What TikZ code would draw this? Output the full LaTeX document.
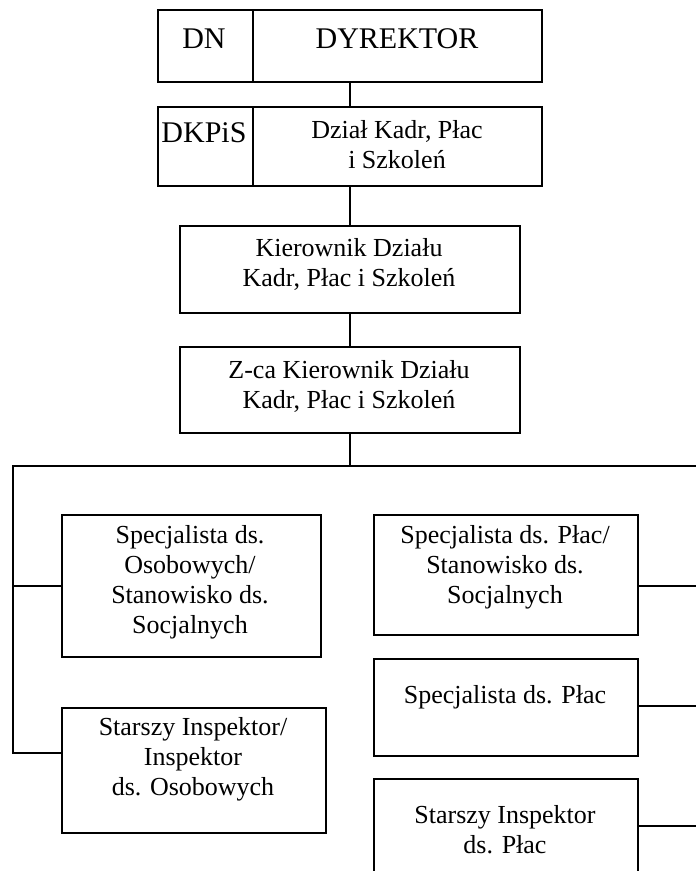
\documentclass[tikz,border=0pt]{standalone}
\usepackage{fontspec}
\setmainfont{Liberation Serif}
\usetikzlibrary{positioning}

\tikzset{
  box/.style={draw, anchor=north west, inner sep=0pt},
  txt/.style={align=center, anchor=base, inner sep=0pt, font=\fontsize{19.5}{22.5}\selectfont},
  bigtxt/.style={anchor=base, inner sep=0pt, font=\fontsize{22.5}{26}\selectfont}
}
% box from (x1,y1) to (x2,y2), in pixels of the page
\newcommand{\orgbox}[5]{\node[box, minimum width={(#4-#2)*0.75pt}, minimum height={(#5-#3)*0.75pt}] (#1) at (#2,#3) {};}

\begin{document}
\begin{tikzpicture}[x=0.75pt, y=-0.75pt, line width=1.3pt]
    \clip (0,0) rectangle (696,871);

    \orgbox{dir}{157}{9}{541}{81}
    \orgbox{dzial}{157}{106}{541}{185}
    \orgbox{kier}{179}{225}{519}{312}
    \orgbox{zca}{179}{346}{519}{432}
    \orgbox{spos}{61}{514}{320}{656}
    \orgbox{sinsp}{61}{707}{325}{832}
    \orgbox{splac}{373}{514}{637}{634}
    \orgbox{spl}{373}{658}{637}{755}
    \orgbox{sinpl}{373}{778}{637}{903}

    \draw ([xshift=72pt]dir.north west) -- ([xshift=72pt]dir.south west);
    \draw ([xshift=72pt]dzial.north west) -- ([xshift=72pt]dzial.south west);

    % text: y is the baseline of the last line
    \node[bigtxt] (tdn) at (204,48) {DN};
    \node[bigtxt] (tdyr) at (397,48) {DYREKTOR};
    \node[bigtxt] (tdkpis) at (204,142) {DKPiS};
    \node[txt] (tdzial) at (397,168) {Dział Kadr, Płac\\i Szkoleń};
    \node[txt] (tkier) at (349,286) {Kierownik Działu\\Kadr, Płac i Szkoleń};
    \node[txt] (tzca) at (349,408) {Z-ca Kierownik Działu\\Kadr, Płac i Szkoleń};
    \node[txt] (tspos) at (190,633) {Specjalista ds.\\Osobowych/\\Stanowisko ds.\\Socjalnych};
    \node[txt] (tsinsp) at (193,795) {Starszy Inspektor/\\Inspektor\\ds. Osobowych};
    \node[txt] (tsplac) at (505,603) {Specjalista ds. Płac/\\Stanowisko ds.\\Socjalnych};
    \node[txt] (tspl) at (505,703) {Specjalista ds. Płac};
    \node[txt] (tsinpl) at (505,853) {Starszy Inspektor\\ds. Płac};

    \coordinate (busl) at (13,466);
    \coordinate (busr) at (710,466);
    \coordinate (lb) at (13,753);
    \coordinate (rb1) at (710,586);
    \coordinate (rb2) at (710,706);
    \coordinate (rb3) at (710,826);

    \draw (dir.south) -- (dzial.north);
    \draw (dzial.south) -- (kier.north);
    \draw (kier.south) -- (zca.north);
    \draw (zca.south) -- (zca.south |- busl);
    \draw (busr) -- (busl) -- (lb) -- (lb -| sinsp.west);
    \draw (busl |- spos.west) -- (spos.west);
    \draw (rb1) -- (rb1 -| splac.east);
    \draw (rb2) -- (rb2 -| spl.east);
    \draw (rb3) -- (rb3 -| sinpl.east);
\end{tikzpicture}
\end{document}
